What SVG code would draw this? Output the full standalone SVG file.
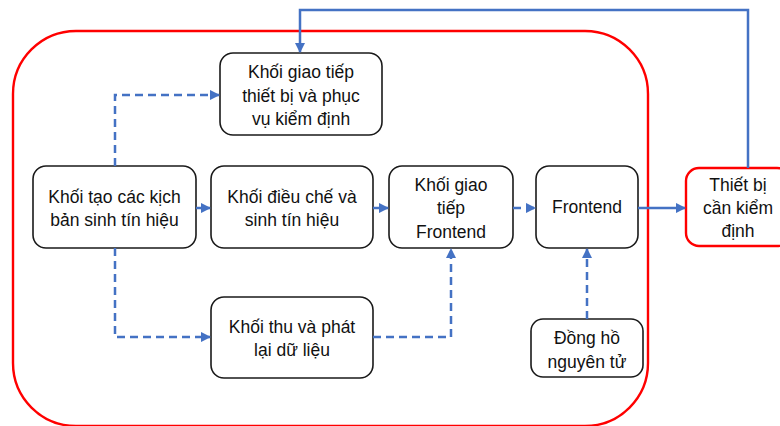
<svg xmlns="http://www.w3.org/2000/svg" width="780" height="426" viewBox="0 0 780 426">
<defs>
<marker id="ah" viewBox="0 0 10 10" refX="9" refY="5" markerWidth="4.2" markerHeight="4.2" orient="auto" markerUnits="strokeWidth">
<path d="M0,0 L10,5 L0,10 z" fill="#4472C4"/>
</marker>
<style>
.box{fill:#fff;stroke:#1a1a1a;stroke-width:1.6}
.red{fill:#fff;stroke:#ff0000;stroke-width:2.4}
.t{font-family:"Liberation Sans",Arial,sans-serif;font-size:17.5px;fill:#111;text-anchor:middle}
.c{fill:none;stroke:#4472C4;stroke-width:2.5;marker-end:url(#ah)}
.d{stroke-dasharray:8 5}
</style>
</defs>
<rect width="780" height="426" fill="#fff"/>
<rect x="13" y="31" width="635" height="395" rx="63" ry="63" fill="none" stroke="#ff0000" stroke-width="2.4"/>

<g id="n1"><rect class="box" x="220" y="53" width="162" height="82" rx="13"/>
<text class="t" x="301" y="78">Khối giao tiếp</text><text class="t" x="301" y="102">thiết bị và phục</text><text class="t" x="301" y="125">vụ kiểm định</text></g>
<g id="n2"><rect class="box" x="33" y="166" width="163" height="82" rx="13"/>
<text class="t" x="114.5" y="203">Khối tạo các kịch</text><text class="t" x="114.5" y="226">bản sinh tín hiệu</text></g>
<g id="n3"><rect class="box" x="211" y="166" width="162" height="82" rx="13"/>
<text class="t" x="292" y="203">Khối điều chế và</text><text class="t" x="292" y="226">sinh tín hiệu</text></g>
<g id="n4"><rect class="box" x="389" y="166" width="124" height="82" rx="13"/>
<text class="t" x="451" y="191">Khối giao</text><text class="t" x="451" y="214">tiếp</text><text class="t" x="451" y="238">Frontend</text></g>
<g id="n5"><rect class="box" x="536" y="166" width="102" height="82" rx="13"/>
<text class="t" x="587" y="213">Frontend</text></g>
<g id="n6"><rect class="red" x="686" y="168" width="104" height="78" rx="13"/>
<text class="t" x="738" y="191">Thiết bị</text><text class="t" x="738" y="214">cần kiểm</text><text class="t" x="738" y="237">định</text></g>
<g id="n7"><rect class="box" x="211" y="297" width="162" height="81" rx="13"/>
<text class="t" x="292" y="333">Khối thu và phát</text><text class="t" x="292" y="356">lại dữ liệu</text></g>
<g id="n8"><rect class="box" x="531" y="319" width="112" height="58" rx="12"/>
<text class="t" x="587" y="344">Đồng hồ</text><text class="t" x="587" y="368">nguyên tử</text></g>

<g id="connectors">
<path class="c" d="M748,168 V10 H300 V52"/>
<path class="c d" d="M115,166 V95 H219"/>
<path class="c" d="M196,208 H210"/>
<path class="c" d="M373,208 H388"/>
<path class="c d" d="M513,208 H535"/>
<path class="c" d="M638,208 H685"/>
<path class="c d" d="M115,248 V337 H210"/>
<path class="c d" d="M373,337 H451 V249"/>
<path class="c d" d="M587,319 V249"/>
</g>
</svg>
